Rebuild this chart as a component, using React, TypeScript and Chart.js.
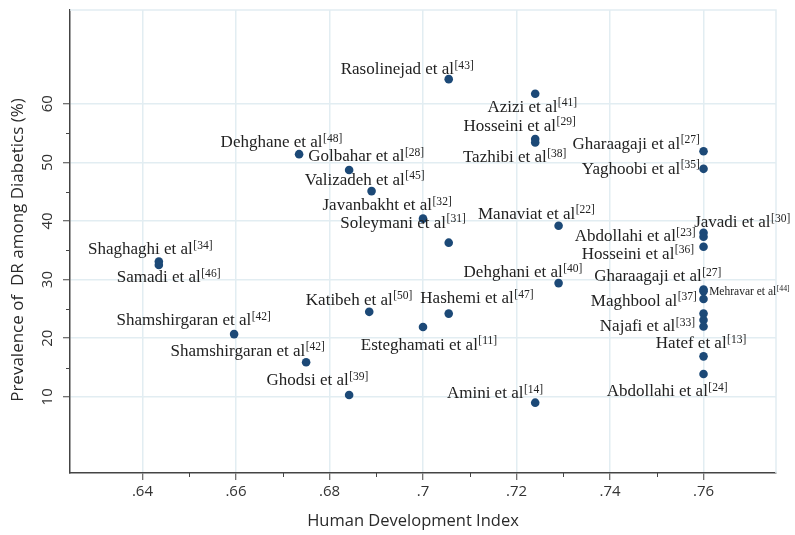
import { useEffect, useRef } from 'react';
import { Chart, registerables } from 'chart.js';

Chart.register(...registerables);

// ---------- data ----------
const studies = [
  'Rasolinejad et al', 'Azizi et al', 'Hosseini et al', 'Tazhibi et al', 'Gharaagaji et al',
  'Yaghoobi et al', 'Dehghane et al', 'Golbahar et al', 'Valizadeh et al', 'Javanbakht et al',
  'Soleymani et al', 'Manaviat et al', 'Javadi et al', 'Abdollahi et al', 'Hosseini et al',
  'Shaghaghi et al', 'Samadi et al', 'Katibeh et al', 'Shamshirgaran et al', 'Shamshirgaran et al',
  'Ghodsi et al', 'Esteghamati et al', 'Hashemi et al', 'Dehghani et al', 'Amini et al',
  'Gharaagaji et al', 'Mehravar et al', 'Maghbool al', '', '',
  'Najafi et al', 'Hatef et al', 'Abdollahi et al',
];
const refs = [
  '43', '41', '29', '38', '27',
  '35', '48', '28', '45', '32',
  '31', '22', '30', '23', '36',
  '34', '46', '50', '42', '42',
  '39', '11', '47', '40', '14',
  '27', '44', '37', '', '',
  '33', '13', '24',
];
const hdi = [
  0.7055, 0.724, 0.724, 0.724, 0.76,
  0.76, 0.6735, 0.6842, 0.689, 0.70,
  0.7055, 0.729, 0.76, 0.76, 0.76,
  0.6435, 0.6435, 0.6885, 0.6596, 0.675,
  0.6842, 0.70, 0.7055, 0.729, 0.724,
  0.76, 0.76, 0.76, 0.76, 0.76,
  0.76, 0.76, 0.76,
];
const prevalence = [
  64.2, 61.7, 54.0, 53.4, 51.9,
  48.9, 51.4, 48.7, 45.1, 40.4,
  36.3, 39.2, 38.0, 37.3, 35.6,
  33.1, 32.5, 24.5, 20.7, 15.9,
  10.3, 21.9, 24.2, 29.4, 9.0,
  28.3, 28.0, 26.7, 24.2, 23.1,
  22.0, 16.9, 13.9,
];
const xTickValues = [0.64, 0.66, 0.68, 0.7, 0.72, 0.74, 0.76];
const xMinorValues = [0.65, 0.67, 0.69, 0.71, 0.73, 0.75];
const yTickValues = [10, 20, 30, 40, 50, 60];
const yMinorValues = [15, 25, 35, 45, 55];
const xTitle = 'Human Development Index';
const yTitle = 'Prevalence of  DR among Diabetics (%)';

// ---------- layout (label placement relative to its marker: left dx, baseline dy, font size) ----------
const labelLayout: [number, number, number][] = [
  [-108, -5, 17], [-47.7, 18, 17], [-71.7, -8, 17], [-72.3, 19.8, 17], [-131, -2.4, 17],
  [-121.7, 5, 17], [-78.5, -7, 17], [-41, -8.5, 17], [-66.8, -6.4, 17], [-100.5, -8.3, 17],
  [-108.4, -15, 17], [-80.6, -7, 17], [-9.4, -5.6, 17], [-128.7, 4.3, 17], [-121.7, 12, 17],
  [-70.8, -7, 17], [-42.1, 17, 17], [-63.4, -7.3, 17], [-117.6, -9, 17], [-135.6, -6.4, 17],
  [-82.6, -10, 17], [-62.2, 22.5, 17], [-28.4, -10.6, 17], [-95, -6, 17], [-88.3, -4.3, 17],
  [-109.4, -8.6, 17], [5.6, 3.3, 11.5], [-112.7, 7, 17], [0, 0, 17], [0, 0, 17],
  [-103.7, 4.7, 17], [-47.7, -8, 17], [-96.7, 22, 17],
];

const GRID = '#e2edf2';
const AXIS = '#444444';
const POINT = '#1c4977';
const SANS = '"Open Sans", "Liberation Sans", sans-serif';
const SERIF = '"Liberation Serif", "DejaVu Serif", serif';

const decorPlugin = {
  id: 'decor',
  beforeDatasetsDraw(chart: any) {
    const { ctx, chartArea, scales } = chart;
    const { left, right, top, bottom } = chartArea;
    ctx.save();
    ctx.strokeStyle = GRID;
    ctx.lineWidth = 1.5;
    ctx.beginPath();
    ctx.moveTo(left, top);
    ctx.lineTo(right, top);
    ctx.lineTo(right, bottom);
    ctx.stroke();
    ctx.strokeStyle = AXIS;
    ctx.lineWidth = 1;
    ctx.beginPath();
    xMinorValues.forEach((v) => {
      const px = Math.round(scales.x.getPixelForValue(v)) + 0.5;
      ctx.moveTo(px, bottom);
      ctx.lineTo(px, bottom + 4);
    });
    yMinorValues.forEach((v) => {
      const py = Math.round(scales.y.getPixelForValue(v)) + 0.5;
      ctx.moveTo(left, py);
      ctx.lineTo(left - 4, py);
    });
    ctx.stroke();
    ctx.restore();
  },
  afterDatasetsDraw(chart: any) {
    const { ctx } = chart;
    const meta = chart.getDatasetMeta(0);
    ctx.save();
    ctx.fillStyle = '#222222';
    ctx.textAlign = 'left';
    ctx.textBaseline = 'alphabetic';
    meta.data.forEach((pt: any, i: number) => {
      const text = studies[i];
      if (!text) return;
      const [dx, dy, size] = labelLayout[i];
      const x = pt.x + dx;
      const y = pt.y + dy;
      ctx.font = `${size}px ${SERIF}`;
      ctx.fillText(text, x, y);
      const w = ctx.measureText(text).width;
      const ss = size * 0.68;
      ctx.font = `${ss}px ${SERIF}`;
      ctx.fillText(`[${refs[i]}]`, x + w + 0.5, y - size * 0.32);
    });
    ctx.restore();
  },
  afterDraw(chart: any) {
    const { ctx } = chart;
    ctx.save();
    ctx.fillStyle = '#2a2a2a';
    ctx.textAlign = 'center';
    ctx.textBaseline = 'middle';
    ctx.font = `16.5px ${SANS}`;
    ctx.fillText(xTitle, 413, 521);
    ctx.translate(18, 250);
    ctx.rotate(-Math.PI / 2);
    ctx.font = `17px ${SANS}`;
    ctx.fillText(yTitle, 0, 0);
    ctx.restore();
  },
};

function fmtX(v: number) {
  return String(Number(v.toFixed(2))).replace(/^0/, '');
}

export default function App() {
  const ref = useRef<HTMLCanvasElement>(null);
  useEffect(() => {
    if (!ref.current) return;
    const chart = new Chart(ref.current, {
      type: 'scatter',
      data: {
        datasets: [
          {
            data: hdi.map((x, i) => ({ x, y: prevalence[i] })),
            backgroundColor: POINT,
            borderWidth: 0,
            pointRadius: 4.3,
          },
        ],
      },
      plugins: [decorPlugin],
      options: {
        responsive: false,
        animation: false,
        devicePixelRatio: 1,
        layout: { padding: { top: 10, right: 19, left: 0, bottom: 0 } },
        plugins: { legend: { display: false }, tooltip: { enabled: false } },
        scales: {
          x: {
            type: 'linear',
            min: 0.6245,
            max: 0.7755,
            afterBuildTicks: (s: any) => {
              s.ticks = xTickValues.map((value) => ({ value }));
            },
            afterFit: (s: any) => {
              s.height = 62;
              s.paddingLeft = 0;
              s.paddingRight = 0;
            },
            grid: { color: GRID, lineWidth: 1.5, tickColor: AXIS, tickLength: 7, tickWidth: 1 },
            border: { color: AXIS, width: 1.5 },
            ticks: {
              color: '#333333',
              font: { size: 15, family: SANS },
              padding: 3,
              maxRotation: 0,
              minRotation: 0,
              callback: (v: any) => fmtX(Number(v)),
            },
          },
          y: {
            type: 'linear',
            min: -3,
            max: 76,
            afterBuildTicks: (s: any) => {
              s.ticks = yTickValues.map((value) => ({ value }));
            },
            afterFit: (s: any) => {
              s.width = 70;
              s.paddingTop = 0;
              s.paddingBottom = 0;
            },
            grid: { color: GRID, lineWidth: 1.5, tickColor: AXIS, tickLength: 7, tickWidth: 1 },
            border: { color: AXIS, width: 1.5 },
            ticks: {
              color: '#333333',
              font: { size: 15, family: SANS },
              padding: 7,
              minRotation: 90,
              maxRotation: 90,
              crossAlign: 'center',
              callback: (v: any) => String(v),
            },
          },
        },
      },
    } as any);
    return () => chart.destroy();
  }, []);
  return (
    <div style={{ position: 'fixed', left: 0, top: 0, width: 795, height: 535, background: '#fff' }}>
      <canvas ref={ref} width={795} height={535} style={{ display: 'block' }} />
    </div>
  );
}
